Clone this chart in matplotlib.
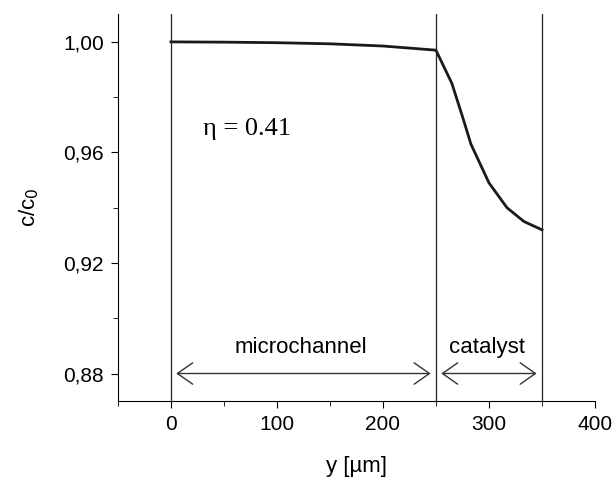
import matplotlib
matplotlib.use('Agg')
import matplotlib.pyplot as plt
from matplotlib.ticker import MultipleLocator, FuncFormatter

# data
y_pos = [0, 50, 100, 150, 200, 250, 265, 275, 283, 300, 317, 333, 350]
conc = [1.0, 0.9999, 0.9997, 0.9993, 0.9985, 0.997, 0.985, 0.973, 0.963, 0.949, 0.940, 0.935, 0.932]
borders = [0, 250, 350]
regions = ['microchannel', 'catalyst']

plt.rcParams['font.family'] = ['Liberation Sans', 'DejaVu Sans']

fig = plt.figure(figsize=(6.14, 4.91), dpi=100)
ax = fig.add_axes([0.192, 0.183, 0.777, 0.788])

ax.plot(y_pos, conc, color='#1a1a1a', lw=2)
for b in borders:
    ax.axvline(b, color='#222222', lw=0.9)

# arrows for the two regions
for i, name in enumerate(regions):
    x0, x1 = borders[i], borders[i + 1]
    ax.annotate('', xy=(x0 + 5, 0.88), xytext=(x1 - 5, 0.88),
                arrowprops=dict(arrowstyle='<->,head_length=0.5,head_width=0.35',
                                color='#333333', lw=1.0,
                                mutation_scale=22, shrinkA=0, shrinkB=0))
    ax.text((x0 + x1) / 2 - 2, 0.8876, name, ha='center', va='baseline', fontsize=16)

ax.text(30, 0.9685, '\u03b7 = 0.41', family=['Liberation Serif', 'DejaVu Serif'],
        fontsize=19, ha='left', va='center')

ax.set_xlim(-50, 400)
ax.set_ylim(0.87, 1.01)
ax.xaxis.set_major_locator(MultipleLocator(100))
ax.xaxis.set_minor_locator(MultipleLocator(50))
ax.yaxis.set_minor_locator(MultipleLocator(0.02))
ax.set_yticks([0.88, 0.92, 0.96, 1.00])
ax.yaxis.set_major_formatter(FuncFormatter(lambda v, p: f'{v:.2f}'.replace('.', ',')))

ax.spines['top'].set_visible(False)
ax.spines['right'].set_visible(False)
ax.tick_params(which='major', direction='out', length=5, labelsize=15, pad=5)
ax.tick_params(which='minor', direction='out', length=3.5)

ax.set_xlabel('y [\u00b5m]', fontsize=16, labelpad=16)
ax.set_ylabel('c/c$_0$', fontsize=16, labelpad=16)

fig.savefig('out.png', dpi=100)
